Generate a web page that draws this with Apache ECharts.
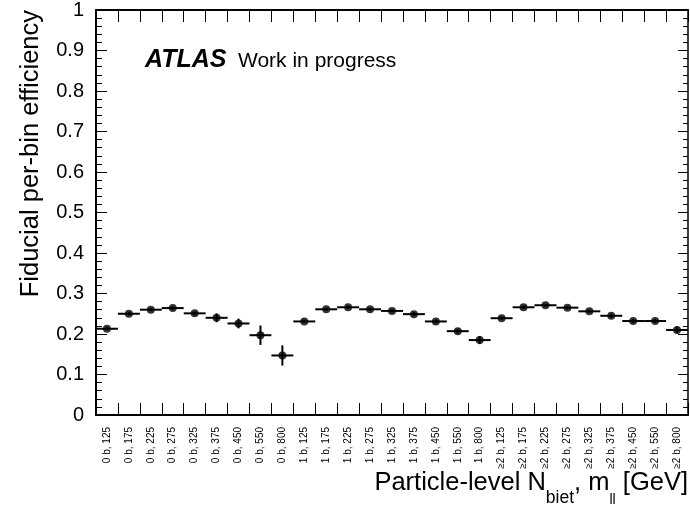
<!DOCTYPE html>
<html>
<head>
<meta charset="utf-8">
<script src="https://cdn.jsdelivr.net/npm/echarts@6/dist/echarts.min.js"></script>
<style>
html,body{margin:0;padding:0;background:#fff;}
#chart{width:690px;height:507px;}
</style>
</head>
<body>
<div id="chart"></div>
<script>
const categories = [
  '0 b, 125','0 b, 175','0 b, 225','0 b, 275','0 b, 325','0 b, 375','0 b, 450','0 b, 550','0 b, 800',
  '1 b, 125','1 b, 175','1 b, 225','1 b, 275','1 b, 325','1 b, 375','1 b, 450','1 b, 550','1 b, 800',
  '≥2 b, 125','≥2 b, 175','≥2 b, 225','≥2 b, 275','≥2 b, 325','≥2 b, 375','≥2 b, 450','≥2 b, 550','≥2 b, 800'
];
const efficiency = [
  0.213, 0.250, 0.260, 0.264, 0.251, 0.240, 0.226, 0.197, 0.147,
  0.231, 0.261, 0.266, 0.261, 0.257, 0.249, 0.231, 0.207, 0.185,
  0.239, 0.266, 0.271, 0.265, 0.256, 0.245, 0.232, 0.232, 0.210
];
const errors = [
  0.004, 0.004, 0.004, 0.004, 0.005, 0.011, 0.012, 0.024, 0.025,
  0.004, 0.004, 0.004, 0.004, 0.004, 0.005, 0.005, 0.006, 0.010,
  0.004, 0.004, 0.004, 0.004, 0.004, 0.005, 0.005, 0.005, 0.008
];
const yTicks = [0, 0.1, 0.2, 0.3, 0.4, 0.5, 0.6, 0.7, 0.8, 0.9, 1];

const FONT = 'Liberation Sans, Arial, Helvetica, sans-serif';
const chart = echarts.init(document.getElementById('chart'), null, {renderer: 'canvas'});

const barData = categories.map((c, i) => [i, efficiency[i], errors[i]]);

function renderBar(params, api) {
  const i = api.value(0), y = api.value(1), e = api.value(2);
  const c = api.coord([i, y]);
  const w = api.size([1, 0])[0];
  const lo = api.coord([i, y - e]);
  const hi = api.coord([i, y + e]);
  return {
    type: 'group',
    children: [
      {type: 'line', shape: {x1: c[0] - w / 2, y1: c[1], x2: c[0] + w / 2, y2: c[1]}, style: {stroke: '#000', lineWidth: 2}},
      {type: 'line', shape: {x1: c[0], y1: lo[1], x2: c[0], y2: hi[1]}, style: {stroke: '#000', lineWidth: 2}}
    ]
  };
}

const yCommon = {
  type: 'value', min: yTicks[0], max: yTicks[yTicks.length - 1], interval: 0.1,
  splitLine: {show: false},
  minorSplitLine: {show: false}
};

chart.setOption({
  animation: false,
  backgroundColor: '#fff',
  textStyle: {fontFamily: FONT},
  grid: {left: 96, right: 2, top: 10, bottom: 92, containLabel: false},
  xAxis: [
    {
      type: 'category', data: categories, position: 'bottom', boundaryGap: true,
      axisLine: {show: true, onZero: false, lineStyle: {color: '#000', width: 2}},
      axisTick: {show: true, inside: true, length: 12, interval: 0, lineStyle: {color: '#000', width: 1}},
      axisLabel: {show: true, interval: 0, rotate: 90, fontSize: 10, color: '#000', margin: 12, fontFamily: FONT},
      splitLine: {show: false}
    },
    {
      type: 'category', data: categories, position: 'top', boundaryGap: true,
      axisLine: {show: true, onZero: false, lineStyle: {color: '#000', width: 2}},
      axisTick: {show: true, inside: true, length: 12, interval: 0, lineStyle: {color: '#000', width: 1}},
      axisLabel: {show: false},
      splitLine: {show: false}
    }
  ],
  yAxis: [
    Object.assign({}, yCommon, {
      position: 'left',
      axisLine: {show: true, lineStyle: {color: '#000', width: 2}},
      axisTick: {show: true, inside: true, length: 11, lineStyle: {color: '#000', width: 1}},
      minorTick: {show: true, splitNumber: 5, length: 6, lineStyle: {color: '#000', width: 1}},
      axisLabel: {show: true, fontSize: 20, color: '#000', margin: 12, fontFamily: FONT}
    }),
    Object.assign({}, yCommon, {
      position: 'right',
      axisLine: {show: true, lineStyle: {color: '#000', width: 1.5}},
      axisTick: {show: true, inside: true, length: 10, lineStyle: {color: '#000', width: 1}},
      minorTick: {show: true, splitNumber: 5, length: 5, lineStyle: {color: '#000', width: 1}},
      axisLabel: {show: false}
    })
  ],
  series: [
    {
      type: 'custom', name: 'bins', xAxisIndex: 0, yAxisIndex: 0,
      data: barData, encode: {x: 0, y: 1}, renderItem: renderBar, clip: false, z: 2
    },
    {
      type: 'scatter', name: 'Fiducial per-bin efficiency', xAxisIndex: 0, yAxisIndex: 0,
      data: efficiency, symbol: 'circle', symbolSize: 8,
      itemStyle: {color: '#000'}, z: 3
    }
  ],
  graphic: [
    {
      type: 'text', x: 31, y: 10, rotation: Math.PI / 2,
      style: {text: 'Fiducial per-bin efficiency', font: '25.5px ' + FONT, fill: '#000', align: 'right', verticalAlign: 'middle'}
    },
    {
      type: 'text', x: 688, y: 470,
      style: {
        text: '{a|Particle-level N}{s|biet}{a|, m}{t|ll}{a| [GeV]}',
        align: 'right', verticalAlign: 'top', fill: '#000',
        rich: {
          a: {fontSize: 25.5, lineHeight: 25, fontFamily: FONT, verticalAlign: 'top', fill: '#000'},
          s: {fontSize: 17.5, lineHeight: 17, padding: [19, 0, 0, 0], fontFamily: FONT, verticalAlign: 'top', fill: '#000'},
          t: {fontSize: 14, lineHeight: 14, padding: [23, 0, 0, 0], fontFamily: FONT, verticalAlign: 'top', fill: '#000'}
        }
      }
    },
    {
      type: 'text', x: 145, y: 60,
      style: {text: 'ATLAS', font: 'italic bold 25px ' + FONT, fill: '#000', align: 'left', verticalAlign: 'middle'}
    },
    {
      type: 'text', x: 238, y: 61,
      style: {text: 'Work in progress', font: '21px ' + FONT, fill: '#000', align: 'left', verticalAlign: 'middle'}
    }
  ]
});
</script>
</body>
</html>
